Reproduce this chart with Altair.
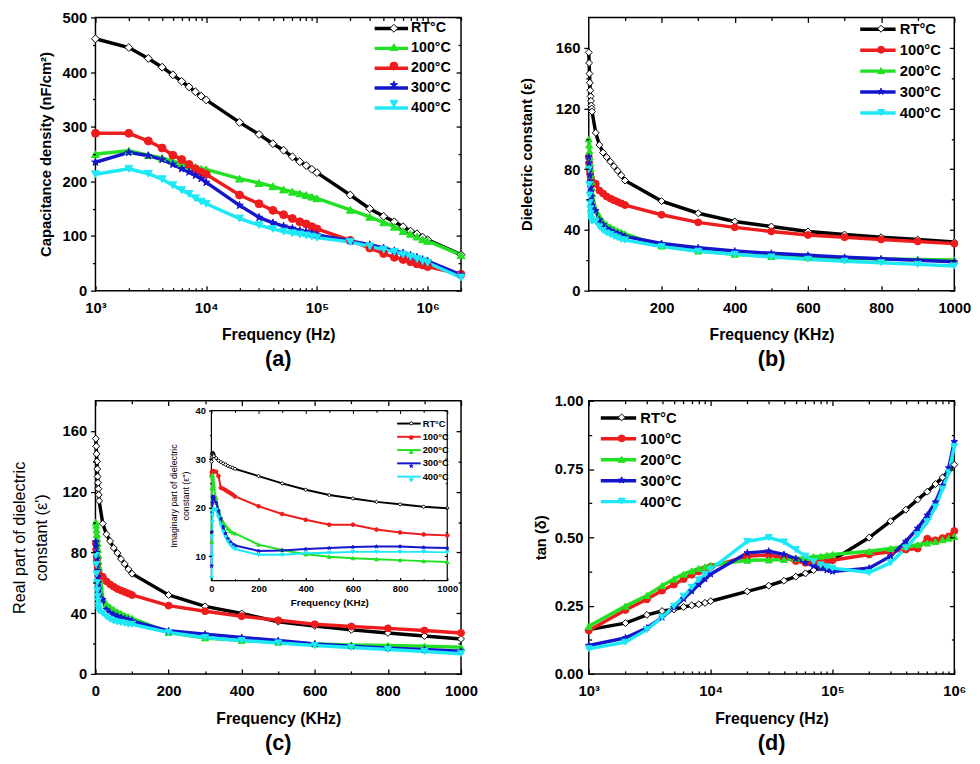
import math
import altair as alt
import pandas as pd

FONT = "Liberation Sans"
SERIES = ["RT°C", "100°C", "200°C", "300°C", "400°C"]

# ---------------- Panel (a): capacitance density vs frequency (Hz, log) ----------------
A_FREQ = [1e3, 2e3, 3e3, 4e3, 5e3, 6e3, 7e3, 8e3, 9e3,
          1e4, 2e4, 3e4, 4e4, 5e4, 6e4, 7e4, 8e4, 9e4,
          1e5, 2e5, 3e5, 4e5, 5e5, 6e5, 7e5, 8e5, 9e5,
          1e6, 2e6]
A_RT = [461, 445, 425, 409, 395, 383, 373, 364, 356,
        349, 308, 286, 269, 257, 245, 236, 229, 222,
        216, 175, 150, 136, 126, 117, 109, 104, 98,
        93, 66]
A_100 = [250, 256, 248, 243, 237, 232, 229, 226, 223,
         222, 205, 197, 191, 185, 181, 178, 175, 172,
         169, 148, 135, 125, 117, 109, 104, 99, 94,
         91, 65]
A_200 = [288, 288, 274, 261, 248, 240, 231, 223, 217,
         213, 175, 159, 147, 139, 132, 126, 122, 117,
         113, 92, 78, 68, 61, 57, 53, 49, 47,
         44, 30]
A_300 = [235, 253, 247, 240, 231, 223, 217, 211, 205,
         198, 156, 134, 124, 118, 114, 110, 108, 105,
         102, 91, 84, 78, 73, 69, 65, 61, 57,
         54, 29]
A_400 = [213, 223, 214, 204, 193, 184, 177, 169, 163,
         159, 132, 120, 113, 108, 105, 103, 101, 99,
         97, 89, 81, 75, 71, 66, 62, 58, 54,
         51, 24]

# ---------------- Panels (b), (c) and inset: frequency in KHz ----------------
K_FREQ = [1, 2, 3, 4, 5, 6, 7, 8, 9, 10,
          20, 30, 40, 50, 60, 70, 80, 90, 100,
          200, 300, 400, 500, 600, 700, 800, 900, 1000]

B_RT = [157, 150, 143, 137, 132, 128, 125, 122, 120, 118,
        104, 96, 91, 88, 85, 82, 79, 76, 72.6,
        59, 51, 45.6, 42.3, 39, 37, 35.2, 33.7, 32]
B_100 = [88, 84, 81, 79, 77, 75, 74, 73, 72, 71,
         70.4, 66, 64, 62, 60.7, 59.6, 58.5, 57.5, 56.4,
         50, 45, 41.7, 39, 36.7, 35.2, 33.7, 32.4, 31]
B_200 = [100, 96, 92, 88, 84, 80, 76, 72, 68, 64,
         53, 49, 45.6, 43.4, 42, 40.6, 39.5, 38.4, 37.4,
         29.4, 26.1, 24, 22.5, 22, 21.3, 20.8, 20.5, 20.3]
B_300 = [88, 84, 80, 76, 72, 68, 65, 62, 59, 56,
         52.7, 46.6, 43.4, 41, 39.7, 38.4, 37.6, 36.7, 35.8,
         31.1, 28.3, 26.1, 24.6, 23.3, 22, 21, 20, 19]
B_400 = [80, 70, 63, 58, 54, 51, 49, 47, 46, 45.8,
         45.6, 42, 39.7, 38, 37, 35.8, 34.8, 33.7, 33.3,
         29, 26, 24, 22.2, 20.7, 19.4, 18.4, 17.3, 16.2]

C_RT = [155, 150, 145, 140, 135, 130, 126, 122, 118, 114,
        99, 92, 87.5, 83, 79.6, 75.7, 72.5, 69, 66,
        52, 44.5, 39.8, 34.4, 31.6, 29, 27, 25, 23]
C_100 = [86, 82, 78, 75, 72, 70, 68, 67, 66, 65,
         64, 61, 59, 57.4, 56, 55, 54, 53, 52,
         45, 41.3, 38, 35.3, 32.7, 31.2, 30, 28.6, 27]
C_200 = [100, 98, 95, 92, 89, 86, 82, 78, 74, 70,
         50, 46, 44, 42.4, 40.9, 39.8, 38.5, 37.6, 36.6,
         27.3, 23.7, 22, 20.9, 19.8, 19.1, 18.7, 18.3, 17.6]
C_300 = [87, 84, 80, 76, 72, 68, 64, 60, 56, 52,
         49, 42.4, 40.2, 39, 38, 37.2, 36.3, 35.7, 34.8,
         28.4, 26.2, 24, 22, 19.8, 18.3, 17, 16.1, 15]
C_400 = [78, 72, 66, 60, 55, 51, 48, 45, 43, 41.5,
         40, 37.6, 36, 34.8, 34.2, 33.8, 33.3, 32.7, 32.7,
         27.3, 24, 22, 20.4, 18.7, 17.4, 16.1, 14.8, 13.3]

I_RT = [29.5, 30.5, 31, 31.3, 31.3, 31.2, 31.1, 31, 30.8, 30.6,
        30.2, 29.7, 29.4, 29.1, 28.9, 28.6, 28.4, 28.2, 28,
        26.5, 25, 23.7, 22.6, 21.9, 21.2, 20.7, 20.2, 19.9]
I_100 = [26.5, 27.2, 27.4, 27.5, 27.5, 27.5, 27.5, 27.5, 27.5, 27.5,
         27.4, 26.5, 24.1, 23.9, 23.6, 23.3, 23, 22.7, 22.3,
         20.3, 18.7, 17.5, 16.5, 16.5, 15.5, 14.9, 14.5, 14.3]
I_200 = [13, 24, 26.5, 26.8, 26.5, 26, 25.5, 25, 24.5, 24,
         22, 19.5, 18, 17, 16.3, 15.7, 15.2, 14.9, 14.7,
         12.4, 11.3, 10.4, 9.9, 9.6, 9.4, 9.2, 9.0, 8.8]
I_300 = [8, 15, 19, 21, 22, 22.3, 22.3, 22.2, 22, 21.8,
         21, 19.4, 17.7, 16, 14.7, 13.6, 13, 12.5, 12.2,
         11.1, 11.2, 11.5, 11.7, 11.9, 12, 12, 11.8, 11.7]
I_400 = [5.5, 10, 14, 17, 18.5, 19.2, 19.5, 19.6, 19.6, 19.6,
         19.5, 18, 16.4, 15, 13.9, 13, 12.3, 11.8, 11.5,
         10.3, 10.3, 10.6, 10.7, 10.9, 10.9, 10.9, 10.9, 10.8]

# ---------------- Panel (d): tan(delta) vs frequency (Hz, log) ----------------
D_FREQ = [1e3, 2e3, 3e3, 4e3, 5e3, 6e3, 7e3, 8e3, 9e3,
          1e4, 2e4, 3e4, 4e4, 5e4, 6e4, 7e4, 8e4, 9e4,
          1e5, 2e5, 3e5, 4e5, 5e5, 6e5, 7e5, 8e5, 9e5,
          1e6]
D_RT = [0.162, 0.186, 0.216, 0.230, 0.236, 0.245, 0.251, 0.255, 0.260,
        0.266, 0.302, 0.323, 0.341, 0.356, 0.368, 0.380, 0.389, 0.404,
        0.416, 0.499, 0.559, 0.601, 0.638, 0.667, 0.695, 0.719, 0.743,
        0.766]
D_100 = [0.159, 0.234, 0.273, 0.305, 0.327, 0.347, 0.363, 0.375, 0.383,
         0.392, 0.431, 0.435, 0.425, 0.413, 0.407, 0.407, 0.410, 0.413,
         0.416, 0.437, 0.447, 0.455, 0.459, 0.495, 0.489, 0.497, 0.503,
         0.523]
D_200 = [0.174, 0.248, 0.287, 0.323, 0.347, 0.365, 0.377, 0.386, 0.392,
         0.398, 0.416, 0.417, 0.419, 0.423, 0.425, 0.429, 0.431, 0.434,
         0.437, 0.449, 0.459, 0.467, 0.473, 0.479, 0.485, 0.491, 0.497,
         0.503]
D_300 = [0.104, 0.132, 0.168, 0.207, 0.243, 0.275, 0.303, 0.327, 0.347,
         0.365, 0.443, 0.449, 0.437, 0.422, 0.407, 0.395, 0.387, 0.380,
         0.375, 0.387, 0.431, 0.485, 0.533, 0.581, 0.629, 0.689, 0.754,
         0.850]
D_400 = [0.092, 0.116, 0.162, 0.207, 0.248, 0.284, 0.317, 0.344, 0.365,
         0.383, 0.485, 0.499, 0.483, 0.455, 0.431, 0.411, 0.399, 0.392,
         0.387, 0.371, 0.407, 0.461, 0.509, 0.557, 0.611, 0.677, 0.737,
         0.832]

# ---------------- styles ----------------
BLACK, RED, GREEN, BLUE, CYAN = "#000000", "#ee1c1c", "#22e022", "#1515cc", "#1ee8f5"
STAR = ("M0,-1L0.235,-0.324L0.951,-0.309L0.38,0.124L0.588,0.809L0,0.4L-0.588,0.809"
        "L-0.38,0.124L-0.951,-0.309L-0.235,-0.324Z")
LINE_SYM = "M-3,0H3"
COLORS_A = [BLACK, GREEN, RED, BLUE, CYAN]
SHAPES_A = ["diamond", "triangle-up", "circle", STAR, "triangle-down"]
COLORS_B = [BLACK, RED, GREEN, BLUE, CYAN]
SHAPES_B = ["diamond", "circle", "triangle-up", STAR, "triangle-down"]

W, H = 372, 278
LW = 3.5
LOG_LABEL = ("datum.value == 1000 ? '10³' : datum.value == 10000 ? '10⁴' : "
             "datum.value == 100000 ? '10⁵' : datum.value == 1000000 ? '10⁶' : ''")


def long_df(freqs, series_vals):
    rows = []
    for name, vals in zip(SERIES, series_vals):
        for f, v in zip(freqs, vals):
            rows.append({"f": f, "v": v, "s": name, "m": "m " + name})
    return pd.DataFrame(rows)


def data_layers(df, xs, ys, colors, shapes, lw, psize, legend=None):
    """line layer + marker layer; legend dict gives line start x, first-row centre y, etc."""
    mdom = ["m " + s for s in SERIES]
    fills = ["#ffffff"] + colors[1:]
    if legend is not None:
        ln, fs, rp = legend["len"], legend["fs"], legend["rp"]
        col_w = ln / 3 + lw
        centre = legend["x0"] + ln / 2
        lx = centre - col_w / 2
        px = centre - (math.sqrt(psize) + 1) / 2
        ly = legend["y0"] - fs / 2
        lo = ln / 2 - col_w / 2 + legend["gap"]
        lg_line = alt.Legend(orient="none", legendX=lx, legendY=ly, title=None,
                             symbolType=LINE_SYM, symbolSize=(ln / 3) ** 2,
                             symbolStrokeWidth=lw, labelFont=FONT, labelFontSize=fs,
                             labelFontWeight="bold", labelColor="black", labelOffset=lo,
                             rowPadding=rp, padding=0)
        lg_pt = alt.Legend(orient="none", legendX=px, legendY=ly,
                           title=None, symbolSize=psize, symbolStrokeWidth=1, labelFont=FONT,
                           labelFontSize=fs, labelFontWeight="bold", labelOpacity=0,
                           labelExpr="' '", labelOffset=2, rowPadding=rp, padding=0,
                           symbolOpacity=1)
    else:
        lg_line = None
        lg_pt = None
    line = alt.Chart(df).mark_line(strokeWidth=lw).encode(
        x=alt.X("f:Q", scale=xs, axis=None),
        y=alt.Y("v:Q", scale=ys, axis=None),
        color=alt.Color("s:N", scale=alt.Scale(domain=SERIES, range=colors), legend=lg_line),
        order=alt.Order("f:Q"),
    )
    pts = alt.Chart(df).mark_point(size=psize, opacity=1, strokeWidth=1, filled=False).encode(
        x=alt.X("f:Q", scale=xs, axis=None),
        y=alt.Y("v:Q", scale=ys, axis=None),
        fill=alt.Fill("m:N", scale=alt.Scale(domain=mdom, range=fills), legend=lg_pt),
        stroke=alt.Stroke("m:N", scale=alt.Scale(domain=mdom, range=colors), legend=lg_pt),
        shape=alt.Shape("m:N", scale=alt.Scale(domain=mdom, range=shapes), legend=lg_pt),
    )
    return [line, pts]


def axis_layers(df1, xs, ys, axes_x, axes_y):
    out = []
    for ax in axes_x:
        out.append(alt.Chart(df1).mark_point(opacity=0).encode(
            x=alt.X("f:Q", scale=xs, axis=ax), y=alt.Y("v:Q", scale=ys, axis=None)))
    for ax in axes_y:
        out.append(alt.Chart(df1).mark_point(opacity=0).encode(
            x=alt.X("f:Q", scale=xs, axis=None), y=alt.Y("v:Q", scale=ys, axis=ax)))
    return out


def tick_axis(orient, values, size, offset, width=1.3):
    return alt.Axis(orient=orient, values=values, tickSize=size, offset=offset, domain=False,
                    labels=False, title="", grid=False, tickColor="black", tickWidth=width,
                    zindex=1)


def main_axis(orient, values, size, offset, title, lab_pad, title_pad, fs=15, tfs=16,
              expr=None, fmt=None, tweight="bold", tlh=None):
    kw = dict(orient=orient, values=values, tickSize=size, offset=offset, domain=False,
              labels=True, title=title, grid=False, tickColor="black", tickWidth=1.3,
              labelFont=FONT, labelFontSize=fs, labelFontWeight="bold", labelColor="black",
              labelPadding=lab_pad, labelFlush=False, labelOverlap=False,
              titleFont=FONT, titleFontSize=tfs, titleFontWeight=tweight, titleColor="black",
              titlePadding=title_pad, zindex=1)
    if expr is not None:
        kw["labelExpr"] = expr
    if fmt is not None:
        kw["format"] = fmt
    if tlh is not None:
        kw["titleLineHeight"] = tlh
    return alt.Axis(**kw)


def frame_axes(xmaj, xmin, ymaj, ymin, x_main, y_main, left_out, maj=5, mn=3):
    axes_x = [x_main,
              tick_axis("bottom", xmin, mn, -mn),
              tick_axis("top", xmaj, maj, -maj),
              tick_axis("top", xmin, mn, -mn)]
    ly = tick_axis("left", ymin, mn, 0 if left_out else -mn)
    axes_y = [y_main, ly,
              tick_axis("right", ymaj, maj, -maj),
              tick_axis("right", ymin, mn, -mn)]
    return axes_x, axes_y


def panel_title(t):
    return alt.TitleParams(t, orient="bottom", anchor="middle", frame="group", font=FONT,
                           fontSize=22, fontWeight="bold", color="black", offset=7)


LOG_MAJ = [1e3, 1e4, 1e5, 1e6]
LOG_MIN_A = [k * 10 ** e for e in (3, 4, 5) for k in range(2, 10)] + [2e6]
LOG_MIN_D = [k * 10 ** e for e in (3, 4, 5) for k in range(2, 10)]
XLP, XTP = 10, 12   # x-axis label padding / title padding

# ---------------- Panel (a) ----------------
df_a = long_df(A_FREQ, [A_RT, A_100, A_200, A_300, A_400])
xs_a = alt.Scale(type="log", domain=[1e3, 2e6], nice=False)
ys_a = alt.Scale(domain=[0, 500], nice=False, zero=False)
ax_a, ay_a = frame_axes(
    LOG_MAJ, LOG_MIN_A, [0, 100, 200, 300, 400, 500], [50, 150, 250, 350, 450],
    main_axis("bottom", LOG_MAJ, 5, -5, "Frequency (Hz)", XLP, XTP, expr=LOG_LABEL),
    main_axis("left", [0, 100, 200, 300, 400, 500], 5, 0, "Capacitance density (nF/cm²)", 4, 9,
              tfs=15),
    left_out=True)
panel_a = alt.layer(
    *data_layers(df_a, xs_a, ys_a, COLORS_A, SHAPES_A, LW, 65,
                 legend={"x0": 284, "y0": 11, "len": 34, "fs": 14.5, "gap": 3, "rp": 4.2}),
    *axis_layers(df_a.head(1), xs_a, ys_a, ax_a, ay_a),
).resolve_axis(x="independent", y="independent").properties(
    width=W, height=H, title=panel_title("(a)"))

# ---------------- Panel (b) ----------------
df_b = long_df(K_FREQ, [B_RT, B_100, B_200, B_300, B_400])
xs_b = alt.Scale(domain=[1, 1000], nice=False, zero=False)
ys_b = alt.Scale(domain=[0, 180], nice=False, zero=False)
ax_b, ay_b = frame_axes(
    [200, 400, 600, 800, 1000], [100, 300, 500, 700, 900], [0, 40, 80, 120, 160], [20, 60, 100, 140],
    main_axis("bottom", [200, 400, 600, 800, 1000], 5, -5, "Frequency (KHz)", XLP, XTP, fmt="d"),
    main_axis("left", [0, 40, 80, 120, 160], 5, 0, "Dielectric constant (ε)", 4, 21, tfs=15, fmt="d"),
    left_out=True)
panel_b = alt.layer(
    *data_layers(df_b, xs_b, ys_b, COLORS_B, SHAPES_B, LW, 50,
                 legend={"x0": 276, "y0": 11.5, "len": 36, "fs": 15, "gap": 4, "rp": 5.3}),
    *axis_layers(df_b.head(1), xs_b, ys_b, ax_b, ay_b),
).resolve_axis(x="independent", y="independent").properties(
    width=W, height=H, title=panel_title("(b)"))

# ---------------- Panel (c) with inset ----------------
df_c = long_df(K_FREQ, [C_RT, C_100, C_200, C_300, C_400])
xs_c = alt.Scale(domain=[0, 1000], nice=False, zero=False)
ys_c = alt.Scale(domain=[0, 180], nice=False, zero=False)
ax_c, ay_c = frame_axes(
    [0, 200, 400, 600, 800, 1000], [100, 300, 500, 700, 900], [0, 40, 80, 120, 160], [20, 60, 100, 140],
    main_axis("bottom", [0, 200, 400, 600, 800, 1000], 5, -5, "Frequency (KHz)", XLP, XTP, fmt="d"),
    main_axis("left", [0, 40, 80, 120, 160], 5, 0, ["Real part of dielectric", "constant (ε')"], 4, 13,
              tfs=16.5, tweight="normal", tlh=22, fmt="d"),
    left_out=True)
main_c = alt.layer(
    *data_layers(df_c, xs_c, ys_c, COLORS_B, SHAPES_B, LW, 50),
    *axis_layers(df_c.head(1), xs_c, ys_c, ax_c, ay_c),
).resolve_axis(x="independent", y="independent")

INSET_X_DOMAIN = [0, 1000]
INSET_Y_DOMAIN = [5, 40]
IX0, IX1, IY0, IY1 = 118, 358, 183, 10   # inset placement inside panel (c), pixels
df_i = long_df(K_FREQ, [I_RT, I_100, I_200, I_300, I_400])
xs_i = alt.Scale(domain=INSET_X_DOMAIN, range=[IX0, IX1], nice=False, zero=False)
ys_i = alt.Scale(domain=INSET_Y_DOMAIN, range=[IY0, IY1], nice=False, zero=False)
frame_df = pd.DataFrame({"f": [INSET_X_DOMAIN[0]], "f2": [INSET_X_DOMAIN[1]],
                         "v": [INSET_Y_DOMAIN[0]], "v2": [INSET_Y_DOMAIN[1]]})
inset_frame = alt.Chart(frame_df).mark_rect(fill="white", stroke="black", strokeWidth=1.2).encode(
    x=alt.X("f:Q", scale=xs_i, axis=None), x2="f2:Q",
    y=alt.Y("v:Q", scale=ys_i, axis=None), y2="v2:Q")
ix_main = main_axis("bottom", [0, 200, 400, 600, 800, 1000], 3, (IY0 - H) - 3, "Frequency (KHz)", 3, 5,
                    fs=9.5, tfs=10, fmt="d")
iy_main = main_axis("left", [10, 20, 30, 40], 3, -IX0, ["Imaginary part of dielectric", "constant (ε'')"],
                    3, 5, fs=9.5, tfs=9, tweight="normal", tlh=12, fmt="d")
ix_axes = [ix_main,
           tick_axis("bottom", [100, 300, 500, 700, 900], 2, (IY0 - H) - 2, width=1),
           tick_axis("top", [0, 200, 400, 600, 800, 1000], 3, -IY1 - 3, width=1),
           tick_axis("top", [100, 300, 500, 700, 900], 2, -IY1 - 2, width=1)]
iy_axes = [iy_main,
           tick_axis("left", [15, 25, 35], 2, -IX0, width=1),
           tick_axis("right", [10, 20, 30, 40], 3, (IX1 - W) - 3, width=1),
           tick_axis("right", [15, 25, 35], 2, (IX1 - W) - 2, width=1)]
inset_c = alt.layer(
    inset_frame,
    *data_layers(df_i, xs_i, ys_i, COLORS_B, SHAPES_B, 2, 14,
                 legend={"x0": 307, "y0": 23, "len": 24, "fs": 9.5, "gap": 2, "rp": 3.5}),
    *axis_layers(df_i.head(1), xs_i, ys_i, ix_axes, iy_axes),
).resolve_axis(x="independent", y="independent")

panel_c = alt.layer(main_c, inset_c).resolve_scale(
    x="independent", y="independent", color="independent", fill="independent",
    stroke="independent", shape="independent").properties(
    width=W, height=H, title=panel_title("(c)"))

# ---------------- Panel (d) ----------------
df_d = long_df(D_FREQ, [D_RT, D_100, D_200, D_300, D_400])
xs_d = alt.Scale(type="log", domain=[1e3, 1e6], nice=False)
ys_d = alt.Scale(domain=[0, 1], nice=False, zero=False)
ax_d, ay_d = frame_axes(
    LOG_MAJ, LOG_MIN_D, [0, 0.25, 0.5, 0.75, 1.0], [0.125, 0.375, 0.625, 0.875],
    main_axis("bottom", LOG_MAJ, 5, -5, "Frequency (Hz)", XLP, XTP, expr=LOG_LABEL),
    main_axis("left", [0, 0.25, 0.5, 0.75, 1.0], 5, -5, "tan (δ)", 6, 6, fmt=".2f", tfs=15),
    left_out=False)
panel_d = alt.layer(
    *data_layers(df_d, xs_d, ys_d, COLORS_B, SHAPES_B, LW, 50,
                 legend={"x0": 12, "y0": 17, "len": 36, "fs": 15, "gap": 4, "rp": 5.3}),
    *axis_layers(df_d.head(1), xs_d, ys_d, ax_d, ay_d),
).resolve_axis(x="independent", y="independent").properties(
    width=W, height=H, title=panel_title("(d)"))

chart = alt.concat(
    panel_a, panel_b, panel_c, panel_d, columns=2, bounds="flush",
    spacing={"row": 112, "column": 130},
).resolve_scale(
    color="independent", fill="independent", stroke="independent", shape="independent",
).properties(
    padding={"left": 3, "top": -5, "right": 0, "bottom": 0},
    background="white",
).configure_view(stroke="black", strokeWidth=1.5)

chart.save("out.html", embed_options={"renderer": "svg", "actions": False})
